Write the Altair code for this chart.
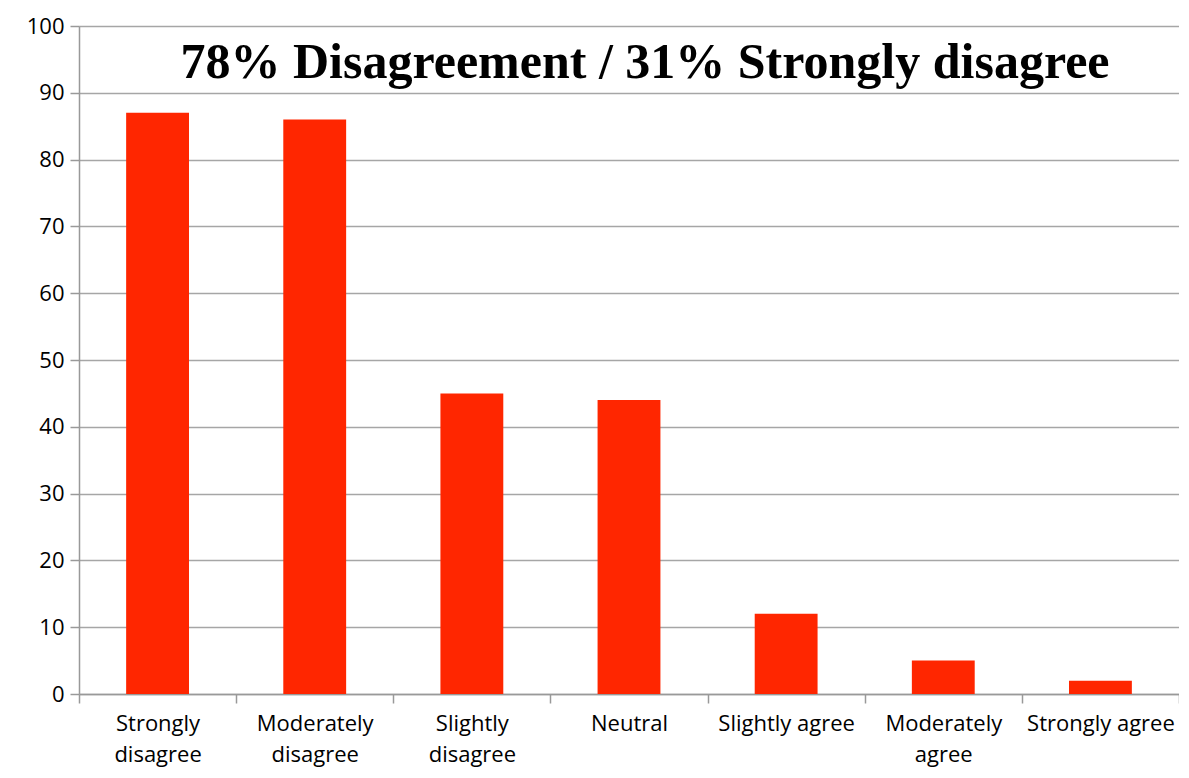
import altair as alt
import pandas as pd

categories = ["Strongly disagree", "Moderately disagree", "Slightly disagree", "Neutral",
              "Slightly agree", "Moderately agree", "Strongly agree"]
values = [87, 86, 45, 44, 12, 5, 2]
title_text = "78% Disagreement / 31% Strongly disagree"

df = pd.DataFrame({"category": categories, "value": values})

label_expr = ("!isValid(datum.value) ? '' : "
              "((datum.value == 'Slightly agree' || datum.value == 'Strongly agree' || "
              "datum.value == 'Neutral') ? datum.value : split(datum.value, ' '))")

base = alt.Chart(df)

bars = base.mark_bar(color="#FF2600", width=alt.RelativeBandSize(0.4)).encode(
    x=alt.X("category:N", sort=categories, title=None,
            scale=alt.Scale(paddingInner=0, paddingOuter=0),
            axis=alt.Axis(labelAngle=0, labelExpr=label_expr, tickBand="extent",
                          labelFont="Open Sans", labelFontSize=22, labelColor="#000000",
                          labelLineHeight=31, labelPadding=10, labelBaseline="top",
                          domainColor="#999999", domainWidth=1.5, tickColor="#999999",
                          tickWidth=1.5, tickSize=9, grid=False)),
    y=alt.Y("value:Q", title=None,
            scale=alt.Scale(domain=[0, 100], nice=False),
            axis=alt.Axis(values=list(range(0, 101, 10)), labelFont="Open Sans", labelFontSize=22,
                          labelColor="#000000", labelPadding=6,
                          domainColor="#999999", domainWidth=1.5, tickColor="#999999",
                          tickWidth=1.5, tickSize=9, gridColor="#a6a6a6", gridWidth=1.5)),
)

title = alt.Chart(pd.DataFrame({"t": [title_text]})).mark_text(
    font="Liberation Serif", fontWeight="bold", fontSize=50, color="#000000",
    align="center", baseline="middle"
).encode(text="t:N", x=alt.value(566), y=alt.value(37))

chart = alt.layer(bars, title).properties(
    width=1100, height=668,
    autosize=alt.AutoSizeParams(type="none"),
    padding={"left": 71, "top": 18, "right": 0, "bottom": 76},
).configure_view(stroke=None).configure(background="white")

chart.save("out.html", embed_options={"renderer": "svg", "actions": False})
